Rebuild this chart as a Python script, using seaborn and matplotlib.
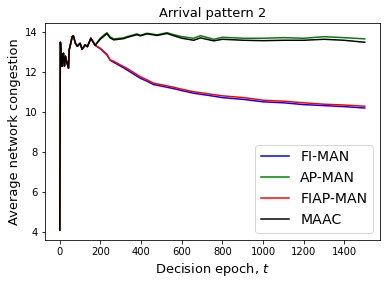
import matplotlib
matplotlib.use("Agg")
import matplotlib.pyplot as plt
import pandas as pd
import seaborn as sns

epochs = [0, 3, 8, 11, 15, 18, 23, 28, 35, 43, 46, 54, 61, 67, 77, 87, 100,
          110, 125, 136, 153, 174, 199, 232, 248, 265, 314, 330, 380, 396,
          429, 462, 478, 527, 560, 601, 659, 692, 758, 800, 905, 1000, 1102,
          1200, 1300, 1398, 1500]

# Common start (all methods overlap until ~t=175)
debut = [4.1, 13.5, 12.9, 12.3, 12.6, 12.95, 12.3, 12.8, 12.5, 12.2, 13.1,
         13.45, 13.78, 13.82, 13.45, 13.3, 13.45, 13.15, 13.37, 13.28, 13.7,
         13.35]

fi_man = debut + [13.18, 12.87, 12.6, 12.5, 12.22, 12.12, 11.8, 11.7, 11.55,
                  11.38, 11.35, 11.25, 11.18, 11.08, 10.95, 10.9, 10.8, 10.73,
                  10.64, 10.52, 10.47, 10.38, 10.33, 10.28, 10.21]
ap_man = debut + [13.7, 13.98, 13.77, 13.67, 13.72, 13.78, 13.92, 13.85,
                  13.95, 13.9, 13.87, 13.98, 13.88, 13.78, 13.7, 13.83, 13.65,
                  13.75, 13.7, 13.7, 13.73, 13.7, 13.78, 13.73, 13.67]
fiap_man = debut + [13.2, 12.9, 12.62, 12.55, 12.28, 12.2, 11.88, 11.78,
                    11.62, 11.45, 11.42, 11.32, 11.25, 11.15, 11.02, 10.98,
                    10.88, 10.82, 10.73, 10.6, 10.55, 10.47, 10.4, 10.36, 10.3]
maac = debut + [13.65, 13.93, 13.72, 13.62, 13.68, 13.74, 13.88, 13.82,
                13.92, 13.87, 13.84, 13.94, 13.83, 13.7, 13.6, 13.72, 13.57,
                13.65, 13.6, 13.58, 13.6, 13.6, 13.65, 13.6, 13.5]

methodes = ["FI-MAN", "AP-MAN", "FIAP-MAN", "MAAC"]
valeurs = [fi_man, ap_man, fiap_man, maac]
couleurs = ["blue", "green", "red", "black"]

df = pd.concat(
    [pd.DataFrame({"t": epochs, "val": v, "methode": m})
     for m, v in zip(methodes, valeurs)],
    ignore_index=True)

fig, ax = plt.subplots(figsize=(385 / 72, 285 / 72), dpi=72)
fig.subplots_adjust(left=0.1156, right=0.987, top=0.92, bottom=0.158)

sns.lineplot(data=df, x="t", y="val", hue="methode", palette=couleurs,
             hue_order=methodes, linewidth=1.5, ax=ax)

ax.set_title("Arrival pattern 2", fontsize=13)
ax.set_xlabel("Decision epoch, $t$", fontsize=13)
ax.set_ylabel("Average network congestion", fontsize=13)
ax.set_yticks([4, 6, 8, 10, 12, 14])
ax.set_xticks([0, 200, 400, 600, 800, 1000, 1200, 1400])
ax.tick_params(labelsize=10)
ax.legend(loc="lower right", fontsize=14)

fig.savefig("out.png", dpi=72)
